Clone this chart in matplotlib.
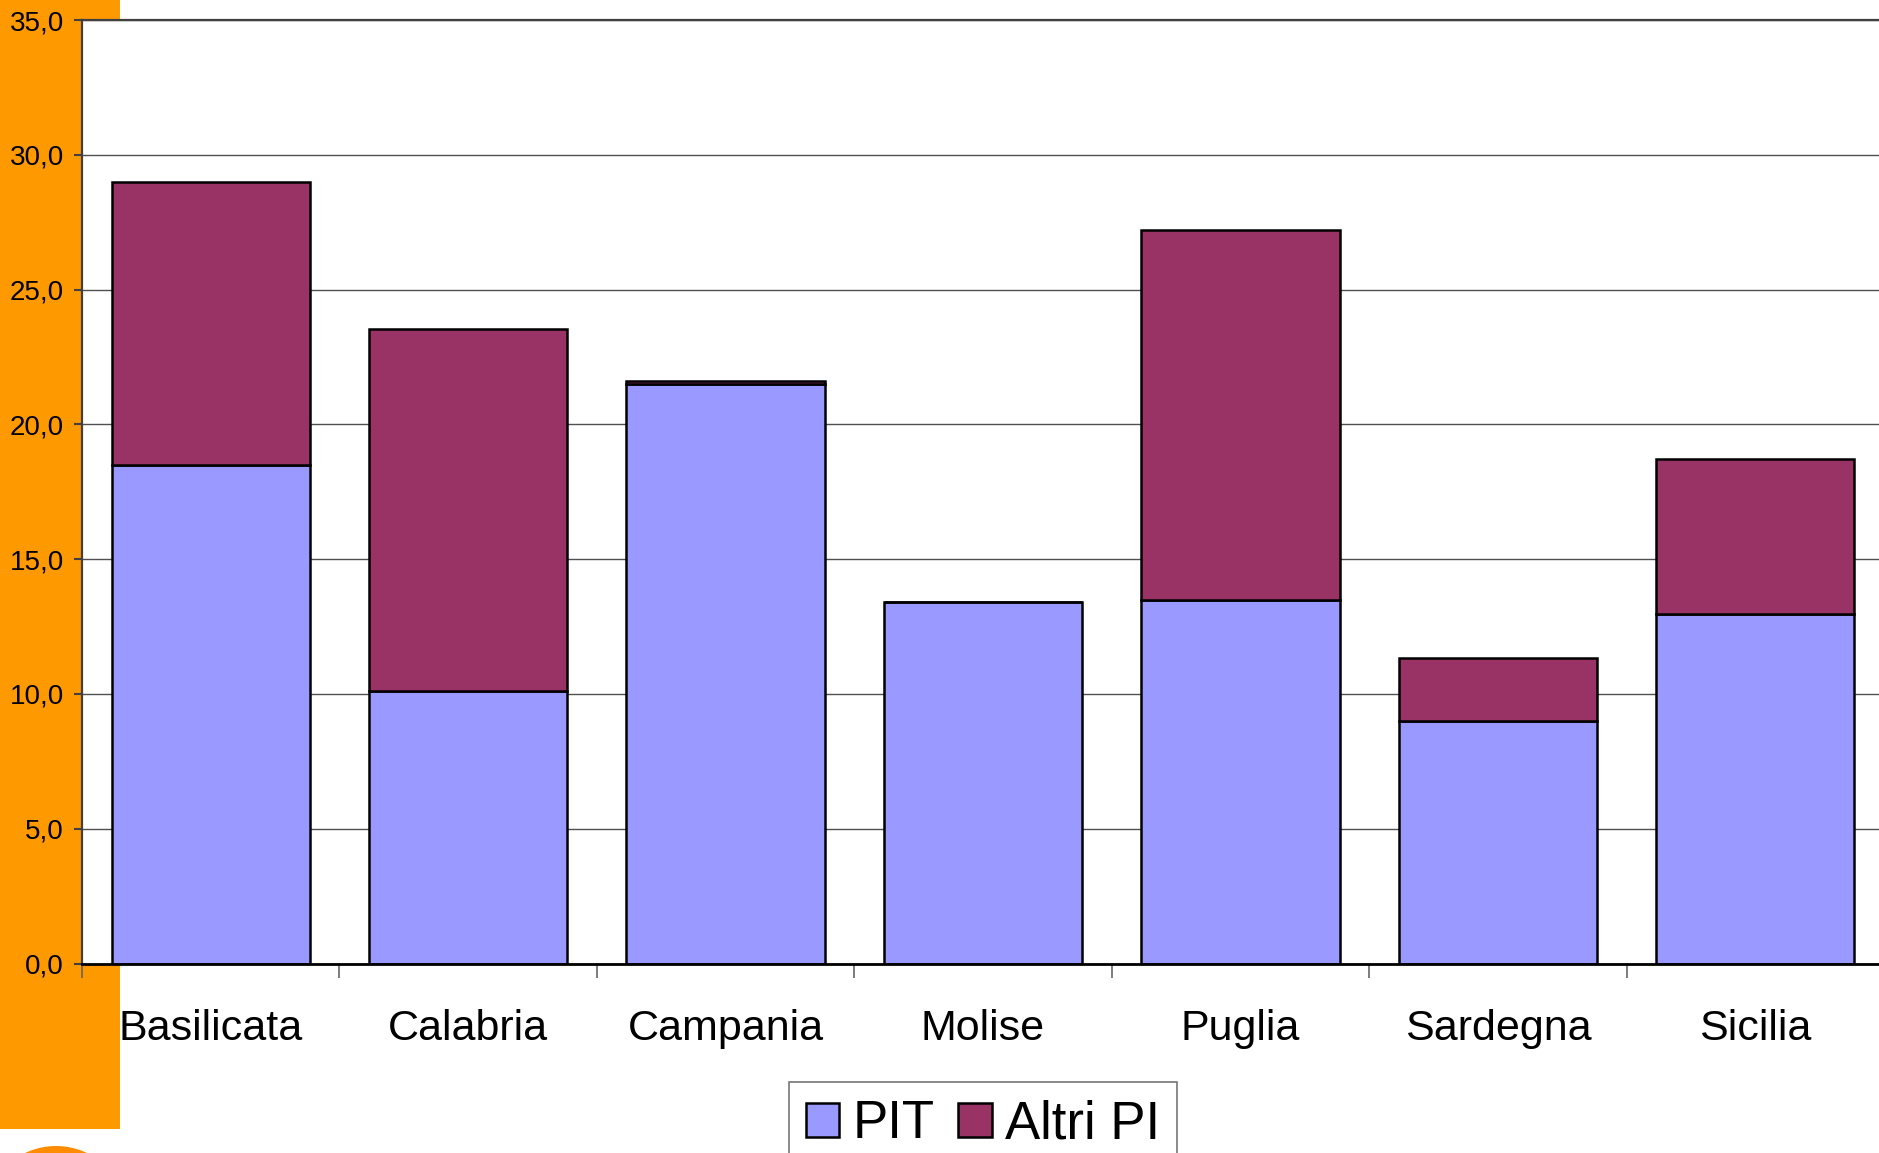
import matplotlib
matplotlib.use("Agg")
import matplotlib.pyplot as plt
from matplotlib.patches import Rectangle, Circle, Patch
from matplotlib.ticker import FuncFormatter

categories = ['Basilicata', 'Calabria', 'Campania', 'Molise', 'Puglia', 'Sardegna', 'Sicilia']
pit = [18.5, 10.1, 21.5, 13.4, 13.5, 9.0, 12.95]
altri = [10.5, 13.45, 0.12, 0.0, 13.7, 2.35, 5.75]
series_names = ['PIT', 'Altri PI']
yticks = [0, 5, 10, 15, 20, 25, 30, 35]

plt.rcParams['font.family'] = ['Liberation Sans', 'DejaVu Sans']

W, H = 1879, 1153
fig = plt.figure(figsize=(W / 100, H / 100), dpi=100)

# orange decoration
fig.patches.append(Rectangle((0, 1 - 1129 / H), 120 / W, 1129 / H,
                             transform=fig.transFigure, facecolor='#FF9900',
                             edgecolor='none', zorder=-2))
fig.patches.append(Circle((0.56, -0.65), 0.72, transform=fig.dpi_scale_trans,
                          facecolor='#FF8C00', edgecolor='none', zorder=-2))

ax = fig.add_axes([82 / W, (H - 963.5) / H, 1802 / W, 943.5 / H])
ax.set_facecolor('white')

x = list(range(len(categories)))
ax.bar(x, pit, width=0.77, color='#9999FF', edgecolor='black', linewidth=1.8, zorder=3)
ax.bar(x, altri, width=0.77, bottom=pit, color='#993366', edgecolor='black', linewidth=1.8, zorder=3)

ax.set_xlim(-0.5, len(categories) - 0.5)
ax.set_ylim(0, 35)
ax.set_yticks(yticks)
ax.yaxis.set_major_formatter(FuncFormatter(lambda v, p: f"{v:.1f}".replace('.', ',')))
ax.grid(axis='y', color='#505050', linewidth=1.0, zorder=0)
ax.set_axisbelow(True)

ax.set_xticks(x)
ax.set_xticklabels(categories, fontsize=31)
ax.tick_params(axis='x', length=0, pad=33)
ax.set_xticks([i + 0.5 for i in range(-1, len(categories))], minor=True)
ax.tick_params(axis='x', which='minor', length=10, width=1.2, color='#666666', direction='out')
ax.tick_params(axis='y', labelsize=20, length=6, width=1.5, color='#404040', pad=7)

ax.spines['right'].set_visible(False)
ax.spines['top'].set_color('#404040')
ax.spines['top'].set_linewidth(1.6)
ax.spines['left'].set_color('#404040')
ax.spines['left'].set_linewidth(1.6)
ax.spines['bottom'].set_color('black')
ax.spines['bottom'].set_linewidth(2.0)
ax.spines['bottom'].set_zorder(4)

handles = [Patch(facecolor='#9999FF', edgecolor='black', linewidth=1.8),
           Patch(facecolor='#993366', edgecolor='black', linewidth=1.8)]
leg = fig.legend(handles, series_names, loc='upper center',
                 bbox_to_anchor=(983 / W, 1 - 1082 / H), fontsize=38,
                 frameon=True, fancybox=False, edgecolor='#555555',
                 ncol=2, handlelength=0.63, handleheight=0.63,
                 handletextpad=0.25, columnspacing=0.45, borderpad=0.33,
                 borderaxespad=0)
leg.get_frame().set_linewidth(1.2)

fig.savefig('out.png', dpi=100, facecolor='white')
